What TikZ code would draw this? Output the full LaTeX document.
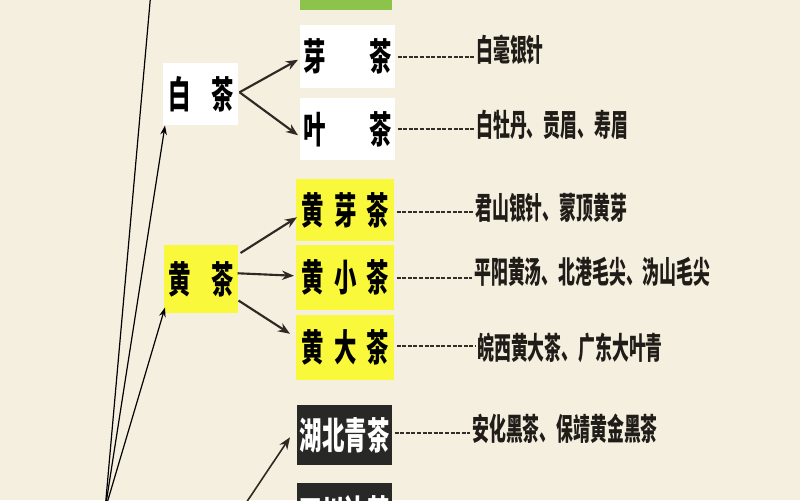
\documentclass[tikz,border=0pt]{standalone}
\usepackage{fontspec}
\newfontfamily\boxfont{Noto Sans CJK SC}[FakeStretch=0.6]
\newfontfamily\itemfont{Noto Sans CJK SC}[FakeStretch=0.55]
\usetikzlibrary{arrows.meta,calc}
\definecolor{bg}{RGB}{245,239,224}
\definecolor{boxyellow}{RGB}{250,248,58}
\definecolor{boxgreen}{RGB}{140,195,74}
\definecolor{boxdark}{RGB}{40,40,38}
\definecolor{arrowc}{RGB}{48,40,34}
\definecolor{leadc}{RGB}{50,45,40}
\definecolor{itemc}{RGB}{32,28,24}
\begin{document}
\begin{tikzpicture}[x=0.75pt,y=-0.75pt,
  bx/.style 2 args={minimum width=#1*0.75pt, minimum height=#2*0.75pt},
  catbox/.style={inner sep=0pt, anchor=north west, text=black,
    font=\boxfont\bfseries\fontsize{28}{30}\selectfont},
  wbox/.style={catbox, fill=white},
  ybox/.style={catbox, fill=boxyellow},
  dbox/.style={catbox, fill=boxdark, text=white},
  gbox/.style={catbox, fill=boxgreen},
  item/.style={anchor=west, inner sep=0pt, text=itemc,
    font=\itemfont\bfseries\fontsize{23}{25}\selectfont},
  arr/.style={draw=arrowc, line width=1.6pt, -{Stealth[length=9pt,width=7pt]}},
  longline/.style={draw=black, line width=0.9pt},
  longarr/.style={longline, -{Stealth[length=7pt,width=5pt]}},
  lead/.style={draw=leadc, line width=1.8pt, dash pattern=on 3pt off 1.2pt}
]
\useasboundingbox (0,0) rectangle (800,500);
\clip (0,0) rectangle (800,500);
\fill[bg] (0,0) rectangle (800,500);

% boxes
\node[gbox, bx={92}{40}] (green) at (300,-30) {};
\node[wbox, bx={75}{62}] (baicha) at (163,63) {\makebox[49pt][s]{白\hfill 茶}};
\node[wbox, bx={95}{63}] (yacha) at (300,25) {\makebox[66pt][s]{芽\hfill 茶}};
\node[wbox, bx={95}{62}] (yecha) at (300,98) {\makebox[66pt][s]{叶\hfill 茶}};
\node[ybox, bx={74}{68}] (huangcha) at (164,245) {\makebox[49pt][s]{黄\hfill 茶}};
\node[ybox, bx={98}{62}] (hyc) at (296,179) {\makebox[66pt][s]{黄\hfill 芽\hfill 茶}};
\node[ybox, bx={98}{65}] (hxc) at (296,245) {\makebox[66pt][s]{黄\hfill 小\hfill 茶}};
\node[ybox, bx={98}{65}] (hdc) at (296,315) {\makebox[66pt][s]{黄\hfill 大\hfill 茶}};
\node[dbox, bx={95}{60}] (hbqc) at (297,405) {湖北青茶};
\node[dbox, bx={95}{60}] (scbc) at (297,483) {四川边茶};

% items
\node[item] (t1) at (476,50) {白毫银针};
\node[item] (t2) at (476,125) {白牡丹、贡眉、寿眉};
\node[item] (t3) at (475,208) {君山银针、蒙顶黄芽};
\node[item] (t4) at (474,272) {平阳黄汤、北港毛尖、沩山毛尖};
\node[item] (t5) at (477,348) {皖西黄大茶、广东大叶青};
\node[item] (t6) at (472,429) {安化黑茶、保靖黄金黑茶};

% leaders
\draw[lead] ($(yacha.east)+(2,0)$) -- ($(yacha.east -| t1.west)+(-2,0)$);
\draw[lead] ($(yecha.east)+(2,0)$) -- ($(yecha.east -| t2.west)+(-2,0)$);
\draw[lead] ($(hyc.east)+(2,2)$) -- ($(hyc.east -| t3.west)+(-2,2)$);
\draw[lead] ($(hxc.east)+(2,0)$) -- ($(hxc.east -| t4.west)+(-2,0)$);
\draw[lead] ($(hdc.east)+(2,-2)$) -- ($(hdc.east -| t5.west)+(-2,-2)$);
\draw[lead] ($(hbqc.east)+(2,-2)$) -- ($(hbqc.east -| t6.west)+(-2,-2)$);

% arrows from categories
\draw[arr] ($(baicha.east)+(1,-2)$) -- ($(yacha.west)+(-2,3)$);
\draw[arr] ($(baicha.east)+(1,-2)$) -- ($(yecha.west)+(-2,6)$);
\draw[arr] ($(huangcha.north east)+(2,8)$) -- ($(hyc.west)+(1,7)$);
\draw[arr] ($(huangcha.east)+(-1,-6)$) -- ($(hxc.west)+(-2,-2)$);
\draw[arr] ($(huangcha.south east)+(0,-13)$) -- ($(hdc.west)+(-6,-14)$);

% long lines from the root below
\coordinate (root) at (105,510);
\coordinate (top) at (152,-20);
\coordinate (hroot) at (240,512);
\draw[longline] (root) -- (top);
\draw[longarr] (root) -- ($(baicha.south west)+(2,0)$);
\draw[longarr] (root) -- ($(huangcha.south west)+(1,-6)$);
\draw[arr, line width=1.2pt] (hroot) -- ($(hbqc.west)+(-7,2)$);
\end{tikzpicture}
\end{document}
